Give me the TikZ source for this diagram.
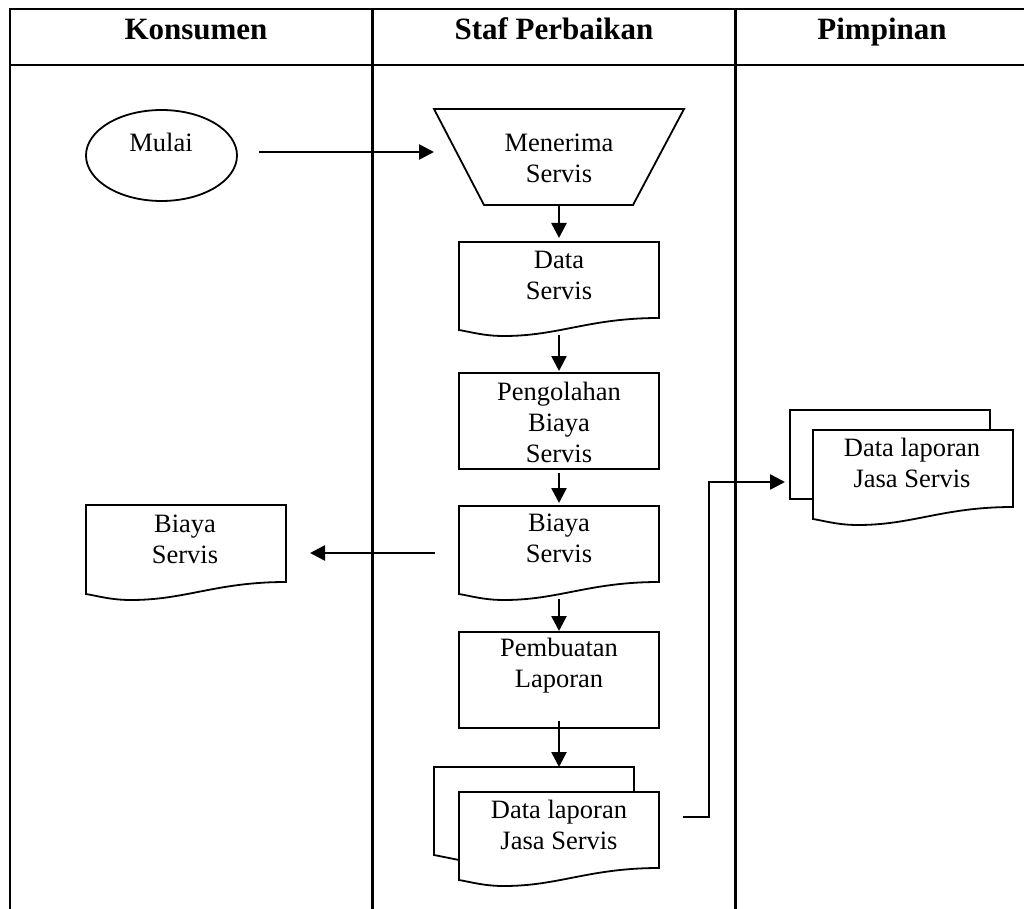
\documentclass[tikz,border=0pt]{standalone}
\usepackage{fontspec}
\setmainfont{Liberation Serif}
\usetikzlibrary{calc,arrows.meta,shapes.geometric}

\begin{document}
\begin{tikzpicture}[x=1pt,y=-1pt,
  lane/.style={line width=2.4pt},
  outline/.style={line width=1.8pt, line join=miter},
  frame/.style={inner sep=0pt, outer sep=0pt, minimum width=200pt},
  box/.style={frame, draw, outline},
  lbl/.style={font=\fontsize{26.5}{31}\selectfont, align=center, inner sep=0pt},
  head/.style={font=\fontsize{31}{36}\selectfont\bfseries, inner sep=0pt, anchor=base},
  flow/.style={line width=2.6pt, -{Triangle[length=15pt,width=15pt]}},
  % document symbol with a wavy lower edge, drawn round a frame node
  doc/.style={insert path={(#1.north west) -- (#1.north east) -- (#1.south east)
      .. controls +(-70,0) and +(55,0) .. ($(#1.south west)+(45,18)$)
      .. controls +(-20,0) and +(12,2) .. ($(#1.south west)+(0,12)$) -- cycle}},
  % second sheet peeking out behind a document
  sheet/.style args={#1/#2/#3}{insert path={($(#1.south west)+(0,-8)$)
      -- ($(#1.south west)+(-#2,12-#3)$) -- ($(#1.north west)+(-#2,-#3)$)
      -- ($(#1.north east)+(-#2,-#3)$) -- ($(#1.north east)+(-#2,0)$)}},
]
\useasboundingbox (0,0) rectangle (1024,909);

% swimlane table
\draw[lane] (1024,9) -- (10,9) -- (10,909);
\draw[lane] (10,65) -- (1024,65);
\draw[lane] (372.5,9) -- (372.5,909);
\draw[lane] (735.5,9) -- (735.5,909);

\node[head] (h1) at (196,40) {Konsumen};
\node[head] (h2) at (554,40) {Staf Perbaikan};
\node[head] (h3) at (882,40) {Pimpinan};

% start
\node[draw, outline, ellipse, minimum width=151pt, minimum height=91pt, inner sep=0pt] (mulai) at (161.5,155.5) {};
\node[lbl] (mulai-t) at (161,142) {Mulai};

% manual input
\node[frame, minimum width=250pt, minimum height=96pt] (menerima) at (559,157) {};
\draw[outline] (menerima.north west) -- (menerima.north east)
  -- ($(menerima.south east)+(-51,0)$) -- ($(menerima.south west)+(50,0)$) -- cycle;
\node[lbl] (menerima-t) at (559,158.5) {Menerima\\Servis};

% data servis
\node[frame, minimum height=76pt] (ds) at (559,280) {};
\draw[outline, doc=ds];
\node[lbl] (ds-t) at (559,275) {Data\\Servis};

% processing
\node[box, minimum height=96pt] (olah) at (559,421) {};
\node[lbl] (olah-t) at (559,422) {Pengolahan\\Biaya\\Servis};

% cost document (staff)
\node[frame, minimum height=76pt] (bm) at (559,544) {};
\draw[outline, doc=bm];
\node[lbl] (bm-t) at (559,538) {Biaya\\Servis};

% cost document (customer)
\node[frame, minimum height=77pt] (bl) at (186,543.5) {};
\draw[outline, doc=bl];
\node[lbl] (bl-t) at (185,539) {Biaya\\Servis};

% report creation
\node[box, minimum height=96pt] (pemb) at (559,680) {};
\node[lbl] (pemb-t) at (559,666) {Pembuatan\\Laporan};

% report documents (staff)
\node[frame, minimum height=76pt] (dl) at (559,830) {};
\draw[outline, sheet=dl/25/25];
\draw[outline, fill=white, doc=dl];
\node[lbl] (dl-t) at (559,825) {Data laporan\\Jasa Servis};

% report documents (manager)
\node[frame, minimum height=77pt] (dr) at (913,468.5) {};
\draw[outline, sheet=dr/23/20];
\draw[outline, fill=white, doc=dr];
\node[lbl] (dr-t) at (912,462.5) {Data laporan\\Jasa Servis};

% connectors
\coordinate (mulai-out) at (259,152);
\coordinate (menerima-in) at (434,152);
\draw[flow] (mulai-out) -- (menerima-in);

\draw[flow, shorten >=4pt] (menerima.south) -- (ds.north);
\draw[flow, shorten >=2pt] ($(ds.south)+(0,17)$) -- (olah.north);
\draw[flow, shorten >=3pt] ($(olah.south)+(0,4)$) -- (bm.north);
\draw[flow, shorten >=1pt] ($(bm.south)+(0,17)$) -- (pemb.north);
\coordinate (dl-back) at ($(dl.north)+(0,-25)$);
\draw[flow] ($(pemb.south)+(0,-7)$) -- (dl-back);

\coordinate (bm-out) at (435,553);
\coordinate (bl-in) at (310,553);
\draw[flow] (bm-out) -- (bl-in);

\coordinate (dl-out) at (683,817);
\coordinate (bend-low) at (709,817);
\coordinate (bend-high) at (709,482);
\coordinate (dr-in) at (785,482);
\draw[flow] (dl-out) -- (bend-low) -- (bend-high) -- (dr-in);
\end{tikzpicture}
\end{document}
